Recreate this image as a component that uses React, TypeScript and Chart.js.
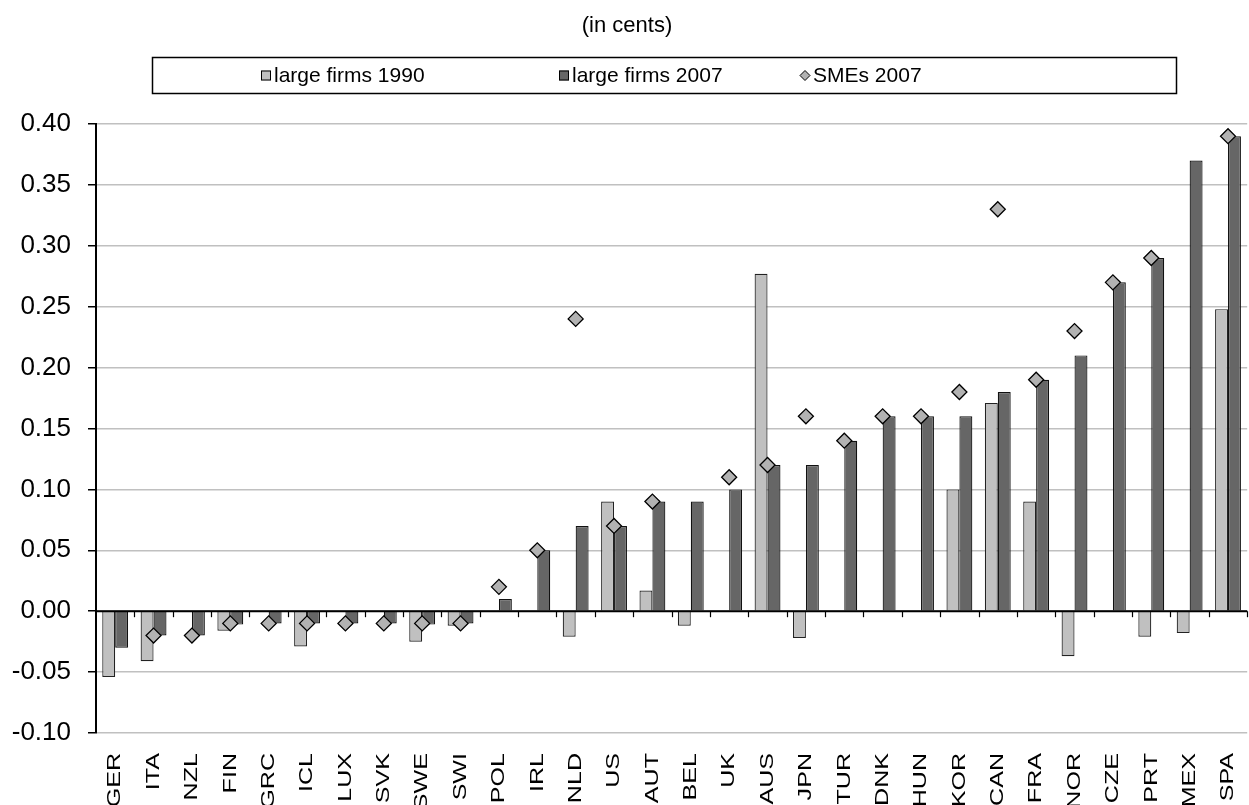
import React, { useEffect, useRef } from "react";
import { Chart, registerables } from "chart.js";

Chart.register(...registerables);

// Country codes along the x axis
const countries = [
  "GER", "ITA", "NZL", "FIN", "GRC", "ICL", "LUX", "SVK", "SWE", "SWI",
  "POL", "IRL", "NLD", "US", "AUT", "BEL", "UK", "AUS", "JPN", "TUR",
  "DNK", "HUN", "KOR", "CAN", "FRA", "NOR", "CZE", "PRT", "MEX", "SPA",
];

// Large firms, 1990 (null = no observation)
const large1990 = [
  -0.054, -0.041, null, -0.016, null, -0.029, null, null, -0.025, -0.012,
  null, null, -0.021, 0.090, 0.017, -0.012, null, 0.277, -0.022, null,
  null, null, 0.100, 0.171, 0.090, -0.037, null, -0.021, -0.018, 0.248,
];

// Large firms, 2007
const large2007 = [
  -0.030, -0.020, -0.020, -0.011, -0.010, -0.010, -0.010, -0.010, -0.011, -0.010,
  0.010, 0.050, 0.070, 0.070, 0.090, 0.090, 0.100, 0.120, 0.120, 0.140,
  0.160, 0.160, 0.160, 0.180, 0.190, 0.210, 0.270, 0.290, 0.370, 0.390,
];

// SMEs, 2007
const smes2007 = [
  null, -0.020, -0.020, -0.010, -0.010, -0.010, -0.010, -0.010, -0.010, -0.010,
  0.020, 0.050, 0.240, 0.070, 0.090, null, 0.110, 0.120, 0.160, 0.140,
  0.160, 0.160, 0.180, 0.330, 0.190, 0.230, 0.270, 0.290, null, 0.390,
];

const seriesNames = ["large firms 1990", "large firms 2007", "SMEs 2007"];
const yTicks = { min: -0.1, max: 0.4, step: 0.05 };

const FONT = '"Liberation Sans", Arial, sans-serif';
const LIGHT = "#c0c0c0";
const DARK = "#666666";
const DIAMOND = "#b2b2b2";

// Draws the bold zero axis with its small category tick marks on top of the bars
const zeroAxisPlugin = {
  id: "zeroAxis",
  afterDatasetsDraw(chart: any) {
    const { ctx, chartArea, scales } = chart;
    const y0 = scales.y.getPixelForValue(0);
    const xs = scales.x;
    ctx.save();
    ctx.strokeStyle = "#000";
    ctx.lineWidth = 2;
    ctx.beginPath();
    ctx.moveTo(chartArea.left, y0);
    ctx.lineTo(chartArea.right, y0);
    ctx.stroke();
    ctx.lineWidth = 1.2;
    const half = (xs.getPixelForValue(1) - xs.getPixelForValue(0)) / 2;
    for (let i = 0; i < countries.length; i++) {
      const bx = Math.round(xs.getPixelForValue(i) + half) + 0.5;
      ctx.beginPath();
      ctx.moveTo(bx, y0);
      ctx.lineTo(bx, y0 + 6);
      ctx.stroke();
    }
    ctx.restore();
  },
};

// Subtitle, boxed legend and rotated country labels
const decorPlugin = {
  id: "decor",
  afterDraw(chart: any) {
    const { ctx, scales, chartArea } = chart;
    ctx.save();

    ctx.fillStyle = "#000";
    ctx.font = `22px ${FONT}`;
    ctx.textAlign = "center";
    ctx.textBaseline = "middle";
    ctx.fillText("(in cents)", 627, 26);

    // legend frame
    ctx.strokeStyle = "#000";
    ctx.lineWidth = 1.5;
    ctx.strokeRect(152.5, 57.5, 1024, 36);

    const itemX = [261, 559, 800];
    const ly = 75.5;
    ctx.font = `21px ${FONT}`;
    ctx.textAlign = "left";
    ctx.lineWidth = 1;
    const fills = [LIGHT, DARK, DIAMOND];
    seriesNames.forEach((name, i) => {
      const x = itemX[i];
      ctx.fillStyle = fills[i];
      ctx.strokeStyle = "#000";
      if (i < 2) {
        ctx.fillRect(x, ly - 5, 10, 10);
        ctx.strokeRect(x + 0.5, ly - 4.5, 9, 9);
      } else {
        ctx.beginPath();
        ctx.moveTo(x + 5, ly - 5);
        ctx.lineTo(x + 10, ly);
        ctx.lineTo(x + 5, ly + 5);
        ctx.lineTo(x, ly);
        ctx.closePath();
        ctx.fill();
        ctx.stroke();
      }
      ctx.fillStyle = "#000";
      ctx.fillText(name, x + 13, ly + 1);
    });

    // country labels, reading upward, stretched along their length
    const xs = scales.x;
    const top = chartArea.bottom + 20;
    ctx.font = `19px ${FONT}`;
    ctx.textAlign = "right";
    ctx.textBaseline = "middle";
    ctx.fillStyle = "#000";
    countries.forEach((c, i) => {
      ctx.save();
      ctx.translate(xs.getPixelForValue(i), top);
      ctx.rotate(-Math.PI / 2);
      ctx.scale(1.32, 1);
      ctx.fillText(c, 0, 0);
      ctx.restore();
    });
    ctx.restore();
  },
};

export default function App() {
  const ref = useRef<HTMLCanvasElement | null>(null);

  useEffect(() => {
    if (!ref.current) return;
    const chart = new Chart(ref.current, {
      type: "bar",
      data: {
        labels: countries,
        datasets: [
          {
            type: "line",
            label: seriesNames[2],
            data: smes2007,
            showLine: false,
            pointStyle: "rectRot",
            pointRadius: 7.5,
            pointHoverRadius: 7.5,
            pointBackgroundColor: DIAMOND,
            pointBorderColor: "#000",
            pointBorderWidth: 1.3,
            order: 0,
          } as any,
          {
            label: seriesNames[0],
            data: large1990,
            backgroundColor: LIGHT,
            borderColor: "#222",
            borderWidth: 1.2,
            order: 1,
          },
          {
            label: seriesNames[1],
            data: large2007,
            backgroundColor: DARK,
            borderColor: "#111",
            borderWidth: 1.2,
            order: 1,
          },
        ],
      },
      options: {
        responsive: false,
        animation: false,
        devicePixelRatio: 1,
        layout: { padding: { top: 124, left: 0, right: 2, bottom: 0 } },
        datasets: {
          bar: { categoryPercentage: 0.674, barPercentage: 1 },
        },
        plugins: {
          legend: { display: false },
          title: { display: false },
          tooltip: { enabled: false },
        },
        scales: {
          x: {
            offset: true,
            grid: { display: false },
            border: { display: false },
            ticks: { display: false },
            afterFit: (s: any) => {
              s.height = 72;
            },
          },
          y: {
            min: yTicks.min,
            max: yTicks.max,
            afterFit: (s: any) => {
              s.width = 96;
            },
            ticks: {
              stepSize: yTicks.step,
              color: "#000",
              padding: 17,
              font: { family: FONT, size: 26 },
              callback: (v: any) => Number(v).toFixed(2),
            },
            grid: {
              color: LIGHT,
              lineWidth: 1.5,
              tickColor: "#000",
              tickLength: 8,
              tickWidth: 1.5,
            },
            border: { display: true, color: "#000", width: 2 },
          },
        },
      },
      plugins: [zeroAxisPlugin, decorPlugin],
    });
    return () => chart.destroy();
  }, []);

  return (
    <div
      style={{
        position: "fixed",
        left: 0,
        top: 0,
        width: 1249,
        height: 805,
        overflow: "hidden",
        background: "#fff",
      }}
    >
      <canvas ref={ref} width={1256} height={805} style={{ display: "block" }} />
    </div>
  );
}
